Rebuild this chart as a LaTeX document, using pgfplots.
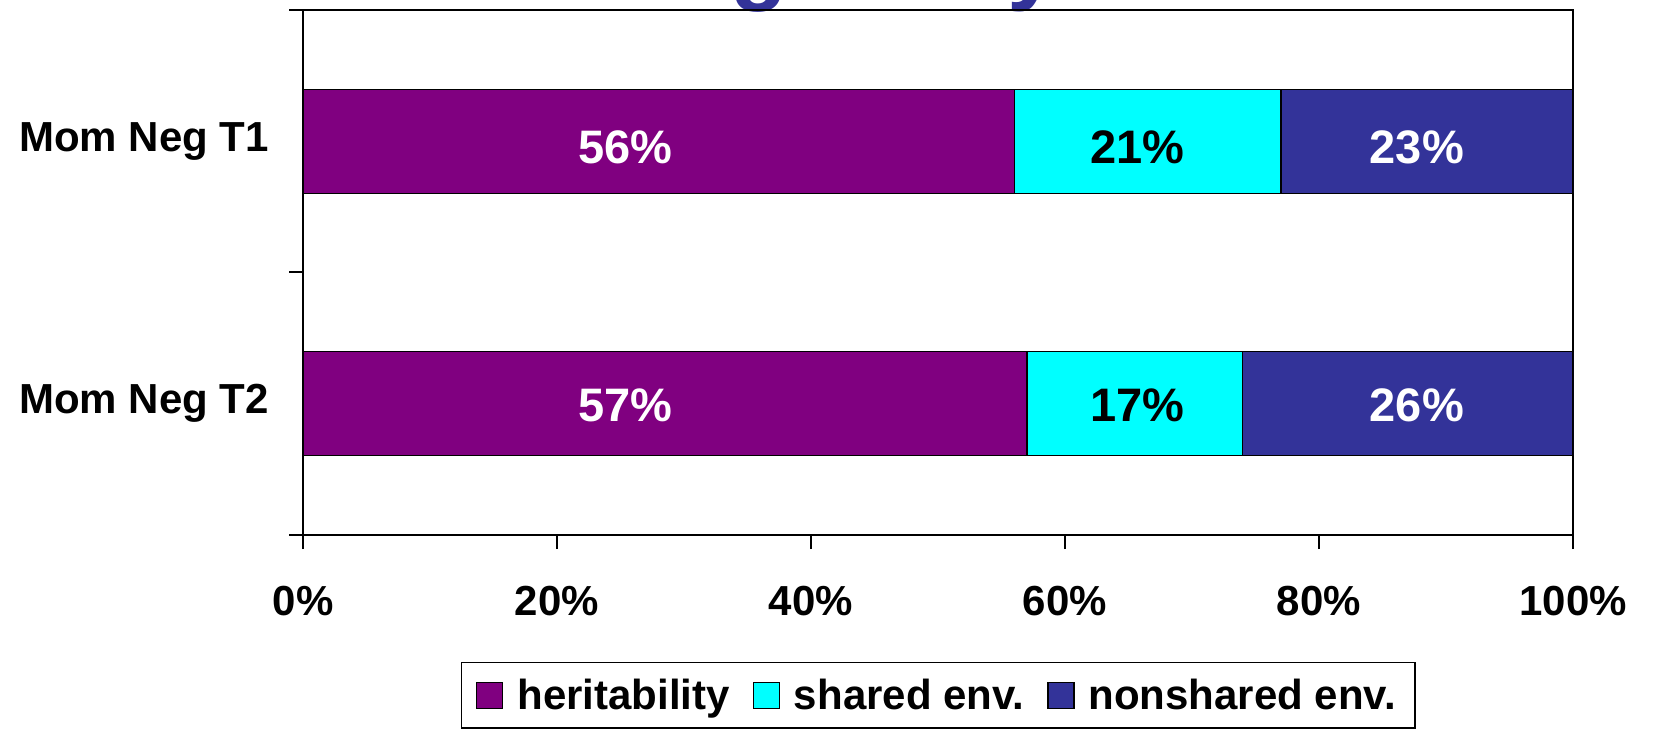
\documentclass[border=0pt]{standalone}
\usepackage{pgfplots}
\pgfplotsset{compat=1.18}
\usepackage{fontspec}
\setmainfont{Liberation Sans}
\definecolor{herit}{HTML}{800080}
\definecolor{shared}{HTML}{00FFFF}
\definecolor{nonsh}{HTML}{333399}
\pgfplotsset{
  sq legend/.style={legend image code/.code={\draw[##1, draw=black, line width=0.6pt] (0pt,-6.5pt) rectangle (13pt,6.5pt); \path (18pt,0pt);}},
  common/.style={
    at={(151.5pt,96.5pt)}, anchor=south west,
    scale only axis, width=635pt, height=262.5pt,
    xmin=0, xmax=100, ymin=-0.5, ymax=1.5,
  }
}
\begin{document}
\begin{tikzpicture}
\useasboundingbox (0,0) rectangle (826.5pt,364pt);
\clip (0,0) rectangle (826.5pt,364pt);
\node[anchor=base west, text=nonsh, font=\fontsize{47pt}{56pt}\selectfont\bfseries, inner sep=0pt] at (305pt,367.5pt) {Negativity};
\begin{axis}[
  common,
  xbar stacked, bar width=52pt,
  axis line style={line width=1pt},
  tick style={line width=1pt, black},
  tick align=outside, major tick length=7pt, tick pos=left,
  xtick={0,20,40,60,80,100},
  xticklabels={0\%,20\%,40\%,60\%,80\%,100\%},
  xticklabel style={yshift=-15pt},
  ytick={-0.5,0.5,1.5}, yticklabels={},
  extra y ticks={0,1}, extra y tick labels={Mom Neg T2,Mom Neg T1},
  extra y tick style={tick style={draw=none}, yticklabel style={xshift=-6.5pt}},
  ticklabel style={font=\fontsize{21pt}{25pt}\selectfont\bfseries},
  legend columns=3,
  legend style={at={(0.5,0)}, anchor=north, yshift=-63.5pt, draw=black, line width=0.7pt,
    font=\fontsize{21pt}{25pt}\selectfont\bfseries,
    /tikz/every even column/.append style={column sep=9.5pt},
    inner xsep=7.5pt, inner ysep=6pt},
]
\addplot[fill=herit, draw=black, line width=0.6pt, sq legend] coordinates {(56,1) (57,0)};
\addplot[fill=shared, draw=black, line width=0.6pt, sq legend] coordinates {(21,1) (17,0)};
\addplot[fill=nonsh, draw=black, line width=0.6pt, sq legend] coordinates {(23,1) (26,0)};
\legend{heritability, shared env., nonshared env.}
\end{axis}
\begin{axis}[common, hide axis]
\addplot[only marks, mark size=0pt, point meta=explicit symbolic, nodes near coords,
  every node near coord/.style={anchor=center, text=white, font=\fontsize{23.5pt}{28pt}\selectfont\bfseries}]
  coordinates {(25.4,0.978) [56\%] (25.4,-0.005) [57\%] (87.7,0.978) [23\%] (87.7,-0.005) [26\%]};
\addplot[only marks, mark size=0pt, point meta=explicit symbolic, nodes near coords,
  every node near coord/.style={anchor=center, text=black, font=\fontsize{23.5pt}{28pt}\selectfont\bfseries}]
  coordinates {(65.7,0.978) [21\%] (65.7,-0.005) [17\%]};
\end{axis}
\end{tikzpicture}
\end{document}
